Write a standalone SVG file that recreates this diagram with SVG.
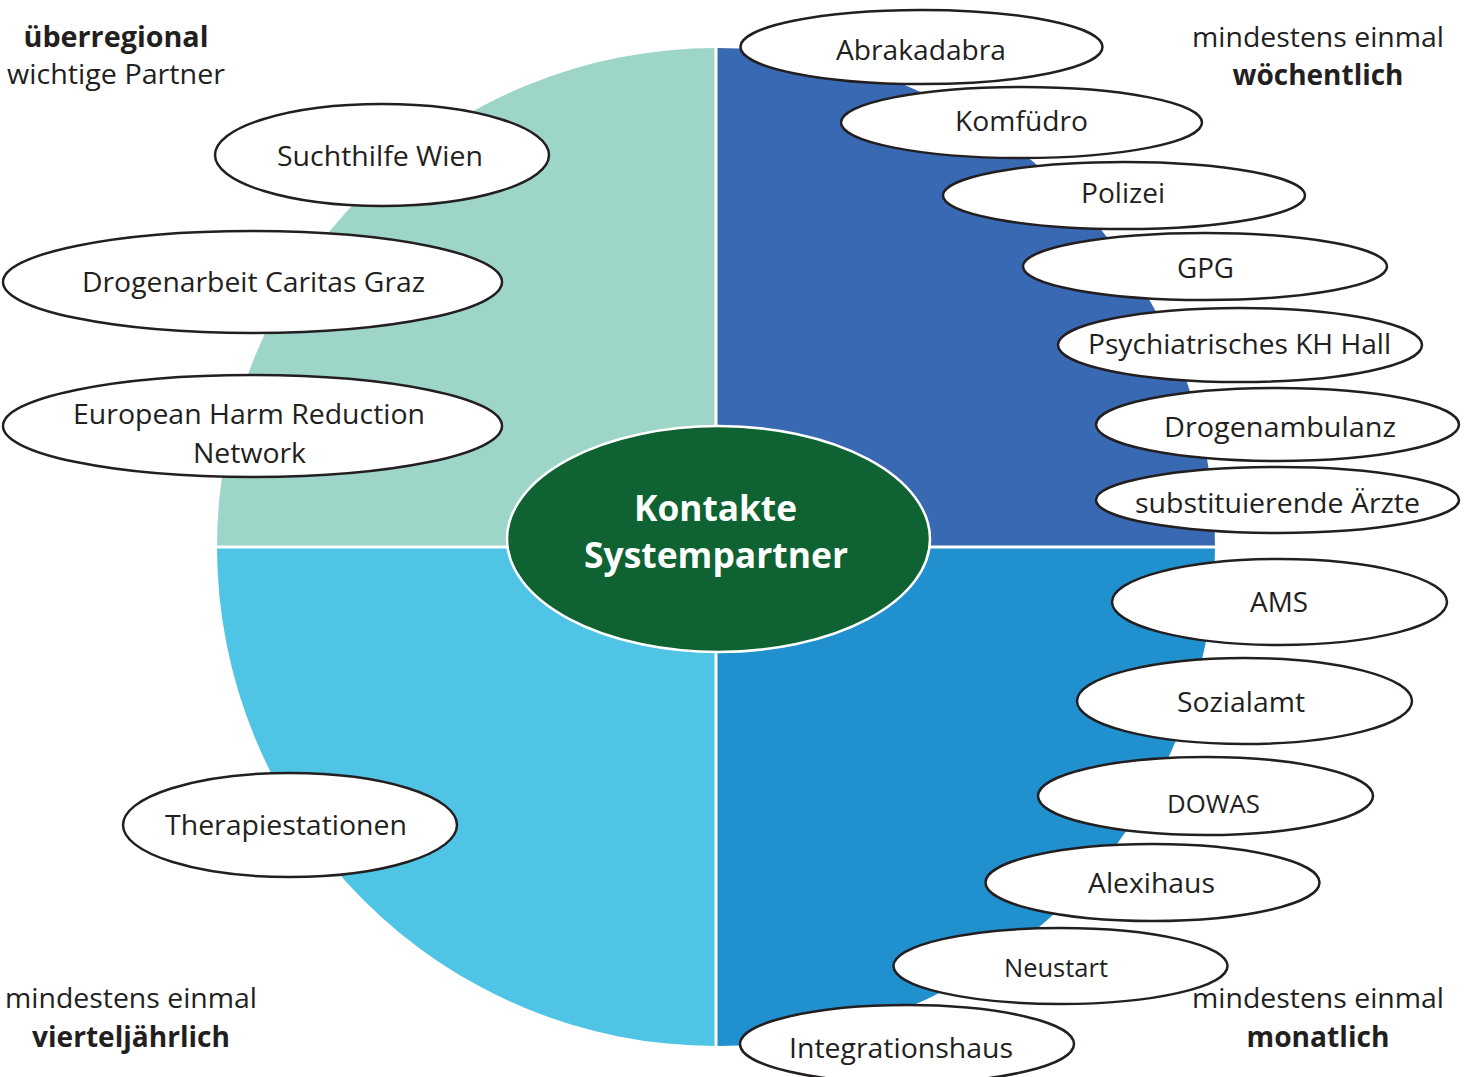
<svg xmlns="http://www.w3.org/2000/svg" width="1473" height="1077" viewBox="0 0 1473 1077">
<style>
.node{fill:#ffffff;stroke:#231f20;stroke-width:2.5}
.t{font-family:"Open Sans","Noto Sans","Liberation Sans",sans-serif;font-size:28px;fill:#231f20;text-anchor:middle}
.b{font-weight:bold}
.s{font-size:26px}
.ct{font-family:"Open Sans","Noto Sans","Liberation Sans",sans-serif;font-size:36px;font-weight:bold;fill:#ffffff;text-anchor:middle}
.div{stroke:#ffffff;stroke-width:3;fill:none}
</style>
<rect x="0" y="0" width="1473" height="1077" fill="#ffffff"/>
<g id="background">
<path d="M716,547 L217,547 A499,499 0 0 1 716,48 Z" fill="#9dd5c9"/>
<path d="M716,547 L716,48 A499,499 0 0 1 1215,547 Z" fill="#3a69b3"/>
<path d="M716,547 L1215,547 A499,499 0 0 1 716,1046 Z" fill="#2190cf"/>
<path d="M716,547 L716,1046 A499,499 0 0 1 217,547 Z" fill="#4fc4e4"/>
<line class="div" x1="716" y1="46" x2="716" y2="1048"/>
<line class="div" x1="215" y1="547" x2="1217" y2="547"/>
</g>
<g id="connectors"></g>
<g id="labels">
<text class="t b" x="116" y="47" textLength="185" lengthAdjust="spacingAndGlyphs">überregional</text>
<text class="t" x="116" y="84" textLength="218" lengthAdjust="spacingAndGlyphs">wichtige Partner</text>
<text class="t" x="1318" y="47" textLength="252" lengthAdjust="spacingAndGlyphs">mindestens einmal</text>
<text class="t b" x="1318" y="85" textLength="171" lengthAdjust="spacingAndGlyphs">wöchentlich</text>
<text class="t" x="131" y="1008" textLength="252" lengthAdjust="spacingAndGlyphs">mindestens einmal</text>
<text class="t b" x="131" y="1047" textLength="198" lengthAdjust="spacingAndGlyphs">vierteljährlich</text>
<text class="t" x="1318" y="1008" textLength="252" lengthAdjust="spacingAndGlyphs">mindestens einmal</text>
<text class="t b" x="1318" y="1047" textLength="143" lengthAdjust="spacingAndGlyphs">monatlich</text>
</g>
<g id="center">
<ellipse cx="718.5" cy="539" rx="211.5" ry="113" fill="#0f6332" stroke="#ffffff" stroke-width="2.5"/>
<text class="ct" x="715.5" y="521" textLength="163" lengthAdjust="spacingAndGlyphs">Kontakte</text>
<text class="ct" x="716" y="568" textLength="264" lengthAdjust="spacingAndGlyphs">Systempartner</text>
</g>
<g id="n-suchthilfe"><ellipse class="node" cx="382" cy="155" rx="167" ry="51"/><text class="t" x="380" y="166" textLength="206" lengthAdjust="spacingAndGlyphs">Suchthilfe Wien</text></g>
<g id="n-caritas"><ellipse class="node" cx="252.5" cy="282" rx="249.5" ry="51"/><text class="t" x="253.5" y="292" textLength="343" lengthAdjust="spacingAndGlyphs">Drogenarbeit Caritas Graz</text></g>
<g id="n-ehrn"><ellipse class="node" cx="252.5" cy="426" rx="249.5" ry="51"/><text class="t" x="249" y="424" textLength="352" lengthAdjust="spacingAndGlyphs">European Harm Reduction</text><text class="t" x="249.5" y="463" textLength="113" lengthAdjust="spacingAndGlyphs">Network</text></g>
<g id="n-therapie"><ellipse class="node" cx="290" cy="825" rx="167" ry="52"/><text class="t" x="286" y="835" textLength="242" lengthAdjust="spacingAndGlyphs">Therapiestationen</text></g>
<g id="n-abrakadabra"><ellipse class="node" cx="921.5" cy="47" rx="181" ry="37"/><text class="t" x="921" y="60" textLength="170" lengthAdjust="spacingAndGlyphs">Abrakadabra</text></g>
<g id="n-komfuedro"><ellipse class="node" cx="1021.5" cy="122.5" rx="180.5" ry="35.5"/><text class="t" x="1021.5" y="131" textLength="133" lengthAdjust="spacingAndGlyphs">Komfüdro</text></g>
<g id="n-polizei"><ellipse class="node" cx="1124" cy="195.5" rx="181" ry="33.5"/><text class="t" x="1123" y="203" textLength="84" lengthAdjust="spacingAndGlyphs">Polizei</text></g>
<g id="n-gpg"><ellipse class="node" cx="1205" cy="266.5" rx="182" ry="33.5"/><text class="t" x="1205.5" y="278" textLength="57" lengthAdjust="spacingAndGlyphs">GPG</text></g>
<g id="n-psych"><ellipse class="node" cx="1240" cy="345" rx="182" ry="37"/><text class="t" x="1239.5" y="354" textLength="303" lengthAdjust="spacingAndGlyphs">Psychiatrisches KH Hall</text></g>
<g id="n-drogenambulanz"><ellipse class="node" cx="1277.5" cy="424.5" rx="181.5" ry="36.5"/><text class="t" x="1280" y="437" textLength="232" lengthAdjust="spacingAndGlyphs">Drogenambulanz</text></g>
<g id="n-aerzte"><ellipse class="node" cx="1277.5" cy="500" rx="181.5" ry="33"/><text class="t" x="1277.5" y="513" textLength="285" lengthAdjust="spacingAndGlyphs">substituierende Ärzte</text></g>
<g id="n-ams"><ellipse class="node" cx="1279.5" cy="602" rx="167.5" ry="43"/><text class="t" x="1279" y="612" textLength="58" lengthAdjust="spacingAndGlyphs">AMS</text></g>
<g id="n-sozialamt"><ellipse class="node" cx="1244.5" cy="701" rx="167.5" ry="43"/><text class="t" x="1241" y="712" textLength="128" lengthAdjust="spacingAndGlyphs">Sozialamt</text></g>
<g id="n-dowas"><ellipse class="node" cx="1205.5" cy="796" rx="167.5" ry="39"/><text class="t s" x="1213.5" y="813" textLength="93" lengthAdjust="spacingAndGlyphs">DOWAS</text></g>
<g id="n-alexihaus"><ellipse class="node" cx="1152.5" cy="882.5" rx="167" ry="38.5"/><text class="t" x="1151.5" y="893" textLength="127" lengthAdjust="spacingAndGlyphs">Alexihaus</text></g>
<g id="n-neustart"><ellipse class="node" cx="1060.5" cy="966" rx="167" ry="38"/><text class="t s" x="1056" y="977" textLength="104" lengthAdjust="spacingAndGlyphs">Neustart</text></g>
<g id="n-integrationshaus"><ellipse class="node" cx="907" cy="1044" rx="167" ry="39"/><text class="t" x="901" y="1058" textLength="224" lengthAdjust="spacingAndGlyphs">Integrationshaus</text></g>
</svg>
